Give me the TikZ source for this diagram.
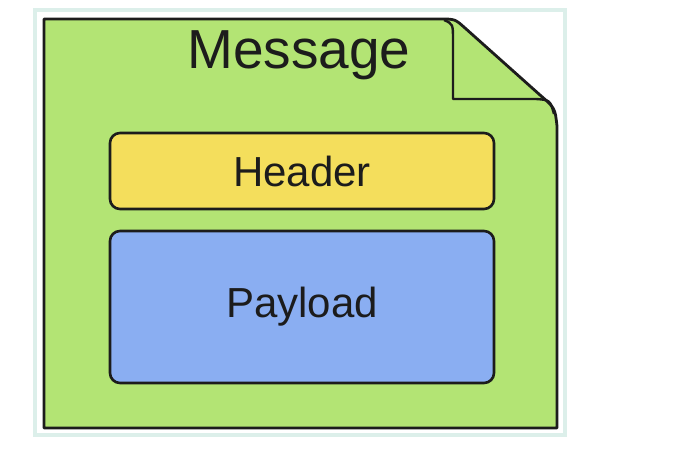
\documentclass[tikz,border=0pt]{standalone}
\usepackage{fontspec}
\setmainfont{Liberation Sans}
\usepackage{tikz}
\usetikzlibrary{positioning}
\usepackage{xcolor}
\definecolor{msgGreen}{HTML}{B3E474}
\definecolor{hdrYellow}{HTML}{F4DE5C}
\definecolor{payBlue}{HTML}{8AAEF2}
\definecolor{msgLine}{HTML}{1C1C1C}
\definecolor{frameTeal}{HTML}{DCEFEA}

\begin{document}
\begin{tikzpicture}[x=1pt,y=-1pt,every node/.style={text=msgLine}]
\useasboundingbox (0,0) rectangle (689,461);
\draw[frameTeal,line width=4pt] (35,10) rectangle (565,435);
% document with folded corner
\draw[msgLine,line width=2.8pt,fill=msgGreen,line join=round] (44,19) -- (440,19) .. controls (455,19) .. (465,28) -- (540,95) .. controls (555,108) .. (557,126) -- (557,428) -- (44,428) -- cycle;
\draw[msgLine,line width=2.4pt,line join=round] (444,20) .. controls (453,24) .. (453,40) -- (453,99) -- (536,99) .. controls (550,100) .. (554,114);
\node[font=\fontsize{55}{60}\selectfont] (msg) at (299,55) {Message};
\node[draw=msgLine,line width=2.6pt,rounded corners=10pt,fill=hdrYellow,minimum width=384pt,minimum height=76pt,inner sep=0pt,font=\fontsize{42}{48}\selectfont] (header) at (302,171) {Header};
\node[draw=msgLine,line width=2.6pt,rounded corners=10pt,fill=payBlue,minimum width=384pt,minimum height=152pt,inner sep=0pt,font=\fontsize{42}{48}\selectfont] (payload) at (302,307) {Payload};
\end{tikzpicture}
\end{document}
